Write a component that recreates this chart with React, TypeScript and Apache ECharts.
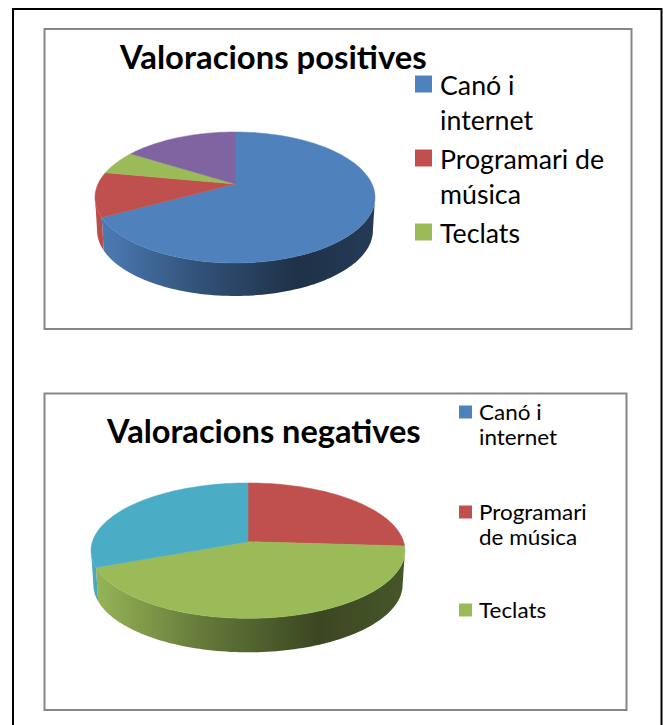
import React, { useEffect, useRef } from "react";
import * as echarts from "echarts";

const legendLabels = ["Canó i\ninternet", "Programari de\nmúsica", "Teclats"];
const legendLabelsNeg = ["Canó i\ninternet", "Programari\nde música", "Teclats"];
const positiveValues = [67, 11, 6, 16];
const negativeValues = [0, 26, 43, 31];
const sliceColors = ["#4f81bd", "#c0504d", "#9bbb59", "#8064a2"];
const sliceColorsNeg = ["#4f81bd", "#c0504d", "#9bbb59", "#4bacc6"];

type Geo = { cx: number; cy: number; A: number; B: number; k: number; depth: number; left: number; right: number };
const geoPos: Geo = { cx: 235, cy: 184, A: 137, B: 62.7, k: 0.206, depth: 33, left: 95, right: 375 };
const geoNeg: Geo = { cx: 248, cy: 541.7, A: 155.6, B: 66.5, k: 0.132, depth: 34, left: 91, right: 405 };

function project(g: Geo, deg: number): [number, number] {
  const t = (deg * Math.PI) / 180;
  const u = Math.sin(t);
  const v = -Math.cos(t);
  const w = 1 - g.k * v;
  return [g.cx + (g.A * u) / w, g.cy + (g.B * v) / w];
}

function shade(hex: string, f: number) {
  const n = parseInt(hex.slice(1), 16);
  const c = [(n >> 16) & 255, (n >> 8) & 255, n & 255].map((x) => Math.round(x * f));
  return `rgb(${c[0]},${c[1]},${c[2]})`;
}

function arc(g: Geo, a: number, b: number) {
  const pts: [number, number][] = [];
  const n = Math.max(2, Math.ceil(Math.abs(b - a) / 1.5));
  for (let i = 0; i <= n; i++) pts.push(project(g, a + ((b - a) * i) / n));
  return pts;
}

function pieSeries(values: number[], colors: string[], g: Geo) {
  const total = values.reduce((s, v) => s + v, 0);
  const frontStart = 90 + (Math.asin(g.k) * 180) / Math.PI;
  const frontEnd = 270 - (Math.asin(g.k) * 180) / Math.PI;
  return {
    type: "custom",
    coordinateSystem: "none",
    silent: true,
    data: values.map((v) => [v]),
    renderItem: (params: any) => {
      const i = params.dataIndex;
      if (!values[i]) return { type: "group", children: [] };
      const before = values.slice(0, i).reduce((s, v) => s + v, 0);
      const a = (before / total) * 360;
      const b = ((before + values[i]) / total) * 360;
      const children: any[] = [];
      const s0 = Math.max(a, frontStart);
      const s1 = Math.min(b, frontEnd);
      if (s1 > s0) {
        const top = arc(g, s0, s1);
        const bottom = top
          .map(([x, y]) => [g.cx + (x - g.cx) * 0.985, y + g.depth])
          .reverse();
        children.push({
          type: "polygon",
          z2: 1,
          shape: { points: [...top, ...bottom] },
          style: {
            fill: new echarts.graphic.LinearGradient(
              g.left, 0, g.right, 0,
              [
                { offset: 0, color: shade(colors[i], 0.98) },
                { offset: 0.35, color: shade(colors[i], 0.65) },
                { offset: 0.72, color: shade(colors[i], 0.38) },
                { offset: 1, color: shade(colors[i], 0.46) },
              ],
              true
            ),
          },
        });
      }
      children.push({
        type: "polygon",
        z2: 2,
        shape: { points: [[g.cx, g.cy], ...arc(g, a, b)] },
        style: { fill: colors[i], stroke: colors[i], lineWidth: 0.5 },
      });
      return { type: "group", children };
    },
  };
}

function text(str: string, x: number, y: number, font: string, scaleX: number) {
  return {
    type: "text",
    x,
    y,
    scaleX,
    style: { text: str, x: 0, y: 0, font, fill: "#000", textVerticalAlign: "middle", textAlign: "left" },
  };
}

function legend(
  labels: string[],
  colors: string[],
  markerX: number,
  markerSize: number,
  textX: number,
  rows: number[],
  lineGap: number,
  font: string,
  scaleX: number
) {
  const out: any[] = [];
  labels.forEach((label, i) => {
    out.push({
      type: "rect",
      shape: { x: markerX, y: rows[i] - markerSize / 2, width: markerSize, height: markerSize },
      style: { fill: colors[i] },
    });
    label.split("\n").forEach((line, j) => {
      out.push(text(line, textX, rows[i] + j * lineGap, font, scaleX));
    });
  });
  return out;
}

export default function App() {
  const ref = useRef<HTMLDivElement>(null);
  useEffect(() => {
    const chart = echarts.init(ref.current!, null, { renderer: "svg" });
    const boxStyle = { fill: "none", stroke: "#868686", lineWidth: 2 };
    chart.setOption({
      animation: false,
      backgroundColor: "#fff",
      graphic: {
        elements: [
          { type: "rect", shape: { x: 13, y: 9, width: 648.5, height: 740 }, style: { fill: "none", stroke: "#000", lineWidth: 2 } },
          { type: "rect", shape: { x: 44.5, y: 29, width: 587, height: 300 }, style: boxStyle },
          { type: "rect", shape: { x: 44.5, y: 393.5, width: 582, height: 316.5 }, style: boxStyle },
          text("Valoracions positives", 120, 56, "bold 33px Lato", 0.995),
          text("Valoracions negatives", 107, 430, "bold 33px Lato", 0.987),
          ...legend(legendLabels, sliceColors, 415, 17, 440, [84, 158, 232], 35, "27px Lato", 0.99),
          ...legend(legendLabelsNeg, sliceColorsNeg, 459, 13, 479, [412, 512, 610], 25, "21px Lato", 1.07),
        ],
      },
      series: [pieSeries(positiveValues, sliceColors, geoPos), pieSeries(negativeValues, sliceColorsNeg, geoNeg)],
    });
    return () => chart.dispose();
  }, []);
  return <div ref={ref} style={{ position: "absolute", left: 0, top: 0, width: 663, height: 725 }} />;
}
